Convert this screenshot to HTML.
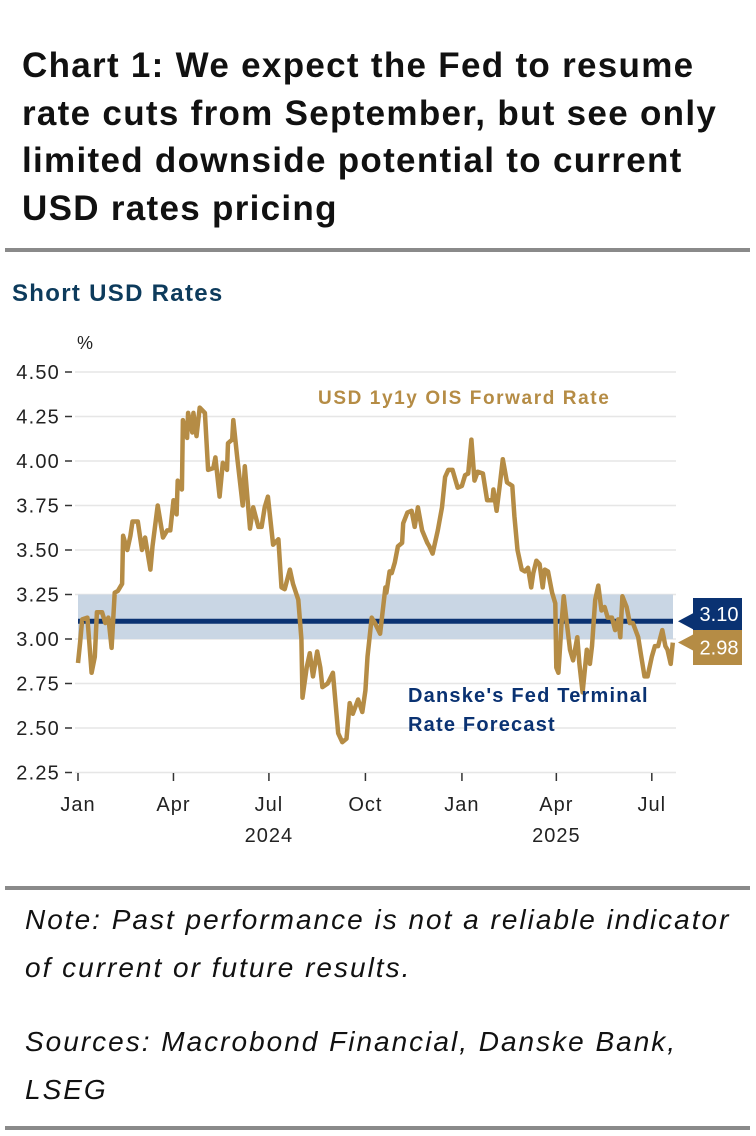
<!DOCTYPE html>
<html><head><meta charset="utf-8"><style>
body{margin:0;width:756px;height:1136px;background:#fff;font-family:"Liberation Sans",sans-serif;position:relative;overflow:hidden}
.t{position:absolute;white-space:nowrap}
.rule{position:absolute;left:5px;width:745px;height:4px;background:#8a8a8a}
</style></head><body>
<div class="t" style="left:22px;top:42px;font-size:35px;font-weight:bold;letter-spacing:1.3px;line-height:47.5px;color:#111">Chart 1: We expect the Fed to resume<br>rate cuts from September, but see only<br>limited downside potential to current<br>USD rates pricing</div>
<div class="rule" style="top:248px"></div>
<div class="t" style="left:12px;top:280px;font-size:24px;font-weight:bold;letter-spacing:1.3px;color:#0d3b5c">Short USD Rates</div>
<svg id="chart" width="756" height="560" style="position:absolute;left:0;top:320px" viewBox="0 320 756 560"></svg>
<div class="rule" style="top:886px"></div>
<div class="t" style="left:25px;top:896px;font-size:28px;font-style:italic;letter-spacing:2px;line-height:48px;color:#111">Note: Past performance is not a reliable indicator<br>of current or future results.</div>
<div class="t" style="left:25px;top:1018px;font-size:28px;font-style:italic;letter-spacing:2px;line-height:48px;color:#111">Sources: Macrobond Financial, Danske Bank,<br>LSEG</div>
<div class="rule" style="top:1126px"></div>
<script>
const yTicks=[4.50,4.25,4.00,3.75,3.50,3.25,3.00,2.75,2.50,2.25];
const xTickLabels=["Jan","Apr","Jul","Oct","Jan","Apr","Jul"];
const xTickDays=[0,91,182,274,366,456,547];
const yearLabels=["2024","2025"];
const yearDays=[182,456];
const terminalRate=3.10;
const bandLow=3.00, bandHigh=3.25;
const lastValue=2.98;
const days=[0,2,4,9,13,16,18,23,26,29,32,35,38,42,43,47,50,52,57,61,64,69,71,76,81,85,88,91,94,95,99,100,104,105,109,110,113,116,121,124,129,131,135,138,142,143,147,148,152,157,159,164,167,172,175,178,181,186,191,194,197,202,205,210,213,214,218,221,224,228,231,233,238,243,248,252,256,259,262,267,271,274,276,280,283,288,293,294,297,299,302,305,309,310,314,318,321,324,328,333,335,338,343,347,350,353,357,362,366,369,372,375,378,381,386,390,395,396,399,402,405,409,414,416,419,423,426,429,432,434,437,440,443,445,448,452,455,456,458,461,463,466,469,472,476,478,481,485,488,490,493,496,499,502,505,509,512,515,517,519,523,526,529,534,537,540,543,547,550,553,557,560,562,565,567];
const rates=[2.865,2.98,3.11,3.12,2.81,2.90,3.15,3.15,3.09,3.12,2.95,3.26,3.27,3.31,3.58,3.50,3.58,3.66,3.66,3.50,3.57,3.39,3.52,3.75,3.57,3.61,3.61,3.78,3.70,3.89,3.84,4.23,4.13,4.27,4.16,4.27,4.14,4.30,4.27,3.95,3.96,4.02,3.80,3.99,3.95,4.10,4.12,4.23,4.01,3.75,3.97,3.62,3.74,3.63,3.63,3.74,3.80,3.53,3.56,3.29,3.28,3.39,3.31,3.22,3.00,2.67,2.84,2.92,2.79,2.93,2.84,2.73,2.75,2.81,2.47,2.42,2.44,2.64,2.58,2.66,2.59,2.71,2.90,3.12,3.09,3.03,3.29,3.26,3.38,3.37,3.43,3.52,3.54,3.65,3.71,3.72,3.63,3.74,3.61,3.54,3.52,3.48,3.61,3.74,3.91,3.95,3.95,3.85,3.86,3.92,3.93,4.12,3.89,3.94,3.93,3.78,3.78,3.84,3.72,3.86,4.01,3.88,3.86,3.69,3.50,3.39,3.38,3.40,3.29,3.37,3.44,3.42,3.29,3.39,3.38,3.26,3.20,2.84,2.81,3.09,3.24,3.09,2.94,2.88,3.01,2.86,2.70,2.94,2.86,2.96,3.22,3.30,3.16,3.18,3.12,3.12,3.05,3.11,3.01,3.24,3.18,3.09,3.09,3.01,2.90,2.79,2.79,2.90,2.96,2.96,3.05,2.96,2.94,2.86,2.98];

const NS="http://www.w3.org/2000/svg";
const svg=document.getElementById('chart');
const X0=78,PXD=1.049,Y0=372,PXV=178,XL=75,XR=676;
function xS(d){return X0+d*PXD;}
function yS(v){return Y0+(4.5-v)*PXV;}
function mk(tag,attrs,parent){const e=document.createElementNS(NS,tag);for(const k in attrs)e.setAttribute(k,attrs[k]);(parent||svg).appendChild(e);return e;}
function txt(s,attrs){const e=mk('text',attrs);e.textContent=s;return e;}

const pct=txt('%',{x:77,y:349,'font-size':18,fill:'#222','font-family':'Liberation Sans'});



yTicks.forEach(v=>{
  const y=yS(v);
  const g=mk('line',{x1:XL,x2:XR,y1:y,y2:y,stroke:'#e6e6e6','stroke-width':1.5});
  
  
  const tk=mk('line',{x1:65,x2:72,y1:y,y2:y,stroke:'#333','stroke-width':1.5});
  
  
  const l=txt(v.toFixed(2),{x:60,y:y+7,'text-anchor':'end','font-size':20,'letter-spacing':1.2,fill:'#222','font-family':'Liberation Sans'});
  
  
});
const band=mk('rect',{x:X0,y:yS(bandHigh),width:673-X0,height:yS(bandLow)-yS(bandHigh),fill:'#c9d6e4'});


const tl=mk('line',{x1:X0,x2:673,y1:yS(terminalRate),y2:yS(terminalRate),stroke:'#0a3272','stroke-width':5});



xTickDays.forEach((d,i)=>{
  const x=xS(d);
  const tk=mk('line',{x1:x,x2:x,y1:773,y2:781,stroke:'#333','stroke-width':1.5});
  
  
  const l=txt(xTickLabels[i],{x:x,y:811,'text-anchor':'middle','font-size':20,'letter-spacing':1,fill:'#222','font-family':'Liberation Sans'});
  
  
});
yearDays.forEach((d,i)=>{
  const l=txt(yearLabels[i],{x:xS(d),y:842,'text-anchor':'middle','font-size':20,'letter-spacing':1,fill:'#222','font-family':'Liberation Sans'});
  
  
});

const pts=days.map((d,i)=>xS(d).toFixed(1)+','+yS(rates[i]).toFixed(1)).join(' ');
const line=mk('polyline',{points:pts,fill:'none',stroke:'#b58c45','stroke-width':4.5,'stroke-linejoin':'round'});



const a1=txt('USD 1y1y OIS Forward Rate',{x:318,y:404,'font-size':19,'font-weight':'bold','letter-spacing':1.6,fill:'#b58c45','font-family':'Liberation Sans'});


const a2=txt("Danske's Fed Terminal",{x:408,y:702,'font-size':20,'font-weight':'bold','letter-spacing':1.2,fill:'#0a3272','font-family':'Liberation Sans'});


const a3=txt("Rate Forecast",{x:408,y:731,'font-size':20,'font-weight':'bold','letter-spacing':1.2,fill:'#0a3272','font-family':'Liberation Sans'});



function tag(v,color,top,bot,name){
  const yc=yS(v);
  const p=mk('path',{d:`M678,${yc} L693,${yc-8} L693,${top} L742,${top} L742,${bot} L693,${bot} L693,${yc+8} Z`,fill:color});
  
  
  const t=txt(v.toFixed(2),{x:719,y:(top+bot)/2+7,'text-anchor':'middle','font-size':20,fill:'#fff','font-family':'Liberation Sans'});
  
  
}
tag(terminalRate,'#0a3272',598,630,'terminal-rate-tag');
tag(lastValue,'#b58c45',630,665,'last-value-tag');
</script>
</body></html>
